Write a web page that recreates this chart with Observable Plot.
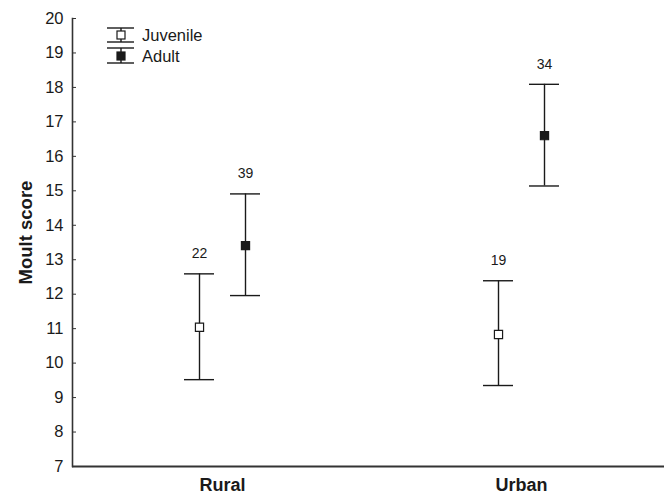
<!DOCTYPE html>
<html>
<head>
<meta charset="utf-8">
<script src="https://cdn.jsdelivr.net/npm/d3@7"></script>
<script src="https://cdn.jsdelivr.net/npm/@observablehq/plot@0.6"></script>
<style>
  html, body { margin: 0; padding: 0; background: #fff; }
  #wrap { position: relative; width: 664px; height: 495px; }
  #legend { position: absolute; left: 0; top: 0; }
</style>
</head>
<body>
<div id="wrap"></div>
<script>
// Data
const habitats = ["Rural", "Urban"];
const juvMean = [11.04, 10.83];
const juvLow  = [9.52, 9.35];
const juvHigh = [12.59, 12.39];
const juvN    = [22, 19];
const adMean  = [13.41, 16.60];
const adLow   = [11.96, 15.14];
const adHigh  = [14.91, 18.09];
const adN     = [39, 34];
const yTicks  = [7, 8, 9, 10, 11, 12, 13, 14, 15, 16, 17, 18, 19, 20];

const juv = habitats.map((h, i) => ({habitat: h, mean: juvMean[i], lo: juvLow[i], hi: juvHigh[i], n: juvN[i]}));
const ad  = habitats.map((h, i) => ({habitat: h, mean: adMean[i], lo: adLow[i], hi: adHigh[i], n: adN[i]}));

const ink = "#1a1a1a";
const off = 23;

function series(data, dx, fill) {
  return [
    Plot.ruleX(data, {x: "habitat", y1: "lo", y2: "hi", dx, stroke: ink, strokeWidth: 1.4}),
    Plot.tickY(data, {x: "habitat", y: "lo", dx, stroke: ink, strokeWidth: 1.4}),
    Plot.tickY(data, {x: "habitat", y: "hi", dx, stroke: ink, strokeWidth: 1.4}),
    Plot.dot(data, {x: "habitat", y: "mean", dx, symbol: "square", r: 4.6, fill, stroke: ink, strokeWidth: 1.2}),
    Plot.text(data, {x: "habitat", y: "hi", text: "n", dx, dy: -20, fontSize: 14, fill: ink})
  ];
}

const chart = Plot.plot({
  width: 664,
  height: 495,
  marginLeft: 72,
  marginRight: 0,
  marginTop: 18,
  marginBottom: 29,
  style: {fontFamily: "'Liberation Sans', Arial, sans-serif", fontSize: "16px", color: ink, background: "#fff"},
  x: {type: "band", domain: habitats, range: [206.5, 535.5], paddingInner: 1 - 30 / 299, paddingOuter: 0},
  y: {domain: [7, 20]},
  marks: [
    Plot.frame({anchor: "left", stroke: "#333", strokeWidth: 1.6}),
    Plot.ruleY([7], {stroke: "#333", strokeWidth: 2}),
    Plot.axisY({ticks: yTicks, tickSize: -4, tickPadding: 13, label: null, fontSize: 16.5, stroke: "#333"}),
    Plot.axisX({tickSize: 0, tickPadding: 12, label: null, fontSize: 18, fontWeight: "bold"}),
    Plot.text(["Moult score"], {frameAnchor: "left", textAnchor: "middle", rotate: -90, dx: -46, dy: -10, fontSize: 18.5, fontWeight: "bold", fill: ink}),
    ...series(juv, -off, "#fff"),
    ...series(ad, off, ink)
  ]
});

const wrap = document.getElementById("wrap");
wrap.appendChild(chart);

// Legend overlay
const legendItems = [
  {label: "Juvenile", fill: "#fff", cy: 35, capTop: 28, capBot: 42},
  {label: "Adult", fill: ink, cy: 56, capTop: 48, capBot: 63}
];
const lg = d3.select(wrap).append("svg")
  .attr("id", "legend").attr("width", 664).attr("height", 100)
  .style("font-family", "'Liberation Sans', Arial, sans-serif");
const g = lg.selectAll("g").data(legendItems).join("g");
g.append("line").attr("x1", 121).attr("x2", 121).attr("y1", d => d.capTop).attr("y2", d => d.capBot).attr("stroke", ink).attr("stroke-width", 1.4);
g.append("line").attr("x1", 107).attr("x2", 134).attr("y1", d => d.capTop).attr("y2", d => d.capTop).attr("stroke", ink).attr("stroke-width", 1.4);
g.append("line").attr("x1", 107).attr("x2", 134).attr("y1", d => d.capBot).attr("y2", d => d.capBot).attr("stroke", ink).attr("stroke-width", 1.4);
g.append("rect").attr("x", 117).attr("y", d => d.cy - 4).attr("width", 8).attr("height", 8).attr("fill", d => d.fill).attr("stroke", ink).attr("stroke-width", 1.2);
g.append("text").attr("x", 142).attr("y", d => d.cy).attr("dy", "0.35em").attr("font-size", 16.5).attr("fill", ink).text(d => d.label);
</script>
</body>
</html>
